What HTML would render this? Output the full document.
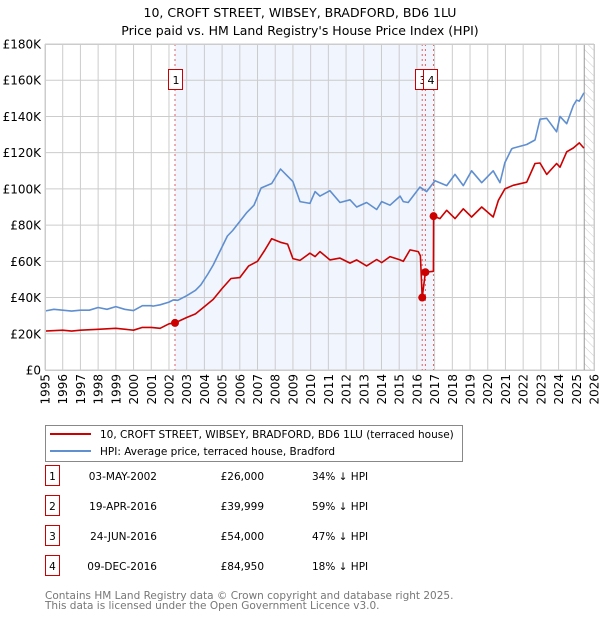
<!DOCTYPE html>
<html><head><meta charset="utf-8"><style>
body{margin:0;background:#fff;font-family:"DejaVu Sans","Liberation Sans",sans-serif;}
svg text{font-family:"DejaVu Sans","Liberation Sans",sans-serif;}
</style></head><body>
<svg id="chart" width="600" height="620" xmlns="http://www.w3.org/2000/svg">
<defs><pattern id="hatch" width="6" height="6" patternUnits="userSpaceOnUse" patternTransform="rotate(-45)"><line x1="0" y1="0" x2="0" y2="6" stroke="#ccc" stroke-width="1"/></pattern></defs>
<text x="300" y="17" text-anchor="middle" font-size="12.5">10, CROFT STREET, WIBSEY, BRADFORD, BD6 1LU</text>
<text x="300" y="35" text-anchor="middle" font-size="12.5">Price paid vs. HM Land Registry's House Price Index (HPI)</text>
<g id="plot"></g>
<g>
<rect x="45.5" y="425.5" width="417" height="36" fill="#fff" stroke="#888"/>
<line x1="50" y1="434" x2="91" y2="434" stroke="#cc0000" stroke-width="2"/>
<text x="100" y="438" font-size="10.5">10, CROFT STREET, WIBSEY, BRADFORD, BD6 1LU (terraced house)</text>
<line x1="50" y1="451" x2="91" y2="451" stroke="#6090d0" stroke-width="2"/>
<text x="100" y="455" font-size="10.5">HPI: Average price, terraced house, Bradford</text>
</g>
<g id="table" font-size="10.5"></g>
<text x="45" y="599" font-size="10.5" fill="#777">Contains HM Land Registry data © Crown copyright and database right 2025.</text>
<text x="45" y="609" font-size="10.5" fill="#777">This data is licensed under the Open Government Licence v3.0.</text>
</svg>
<script>
const hpiYears=[1995,1995.5,1996,1996.5,1997,1997.5,1998,1998.5,1999,1999.5,2000,2000.5,2001,2001.1,2001.5,2002,2002.25,2002.5,2003,2003.5,2003.8,2004.2,2004.5,2004.9,2005.3,2005.6,2006.4,2006.8,2007.2,2007.8,2008.3,2008.7,2009.0,2009.4,2009.96,2010.25,2010.53,2011.09,2011.66,2012.22,2012.6,2013.16,2013.73,2014.01,2014.48,2015.05,2015.23,2015.51,2016.17,2016.55,2017.02,2017.68,2018.15,2018.62,2019.09,2019.66,2020.31,2020.69,2020.97,2021.35,2021.44,2022.2,2022.67,2022.95,2023.33,2023.89,2024.08,2024.46,2024.83,2025.02,2025.17,2025.43];
const hpiValues=[32.6,33.5,33,32.5,33,33,34.5,33.5,35,33.5,32.8,35.5,35.5,35.3,36,37.5,38.7,38.5,41,44,47,53,58,66,74,77,87,91,100.5,103,111,107,104,93,92,98.5,96,99,92.5,94,90,92.5,88.6,93,91,96,93,92.5,101,98.5,104.5,101.8,108,101.8,110,103.4,110,103.4,114.5,122,122.5,124.5,127,138.5,139,131.5,140,136,146,149,148.5,153,148.5];
const redYears=[1995,1996,1996.5,1997,1998,1999,2000,2000.5,2001,2001.5,2002,2002.34,2003,2003.5,2004,2004.5,2005,2005.5,2006,2006.5,2007,2007.4,2007.8,2008.3,2008.7,2009.0,2009.4,2009.96,2010.25,2010.53,2011.09,2011.66,2012.22,2012.6,2013.16,2013.73,2014.01,2014.48,2015.05,2015.23,2015.61,2016.08,2016.2,2016.30,2016.48,2016.93,2016.94,2017.3,2017.68,2018.15,2018.62,2019.09,2019.66,2020.31,2020.6,2020.97,2021.44,2022.2,2022.67,2022.95,2023.33,2023.89,2024.08,2024.46,2024.83,2025.17,2025.43];
const redValues=[21.5,22,21.5,22,22.5,23,22,23.5,23.5,23,25.5,26,29,31,35,39,45,50.5,51,57.5,60,66,72.5,70.5,69.5,61.5,60.5,64.5,62.6,65.4,60.8,61.8,59,60.8,57.5,61,59.3,62.6,60.8,60,66.3,65.4,63,40,54,54.5,84.95,83.6,88.2,83.6,89,84.5,90,84.5,93.7,100,102,103.7,114,114.3,108,114,112,120.5,122.6,125.4,122.5];
const saleYears=[2002.34,2016.30,2016.48,2016.94];
const saleValues=[26,39.999,54,84.95];
const saleLabels=["1","2","3","4"];
const saleDates=["03-MAY-2002","19-APR-2016","24-JUN-2016","09-DEC-2016"];
const salePrices=["£26,000","£39,999","£54,000","£84,950"];
const saleDiffs=["34% ↓ HPI","59% ↓ HPI","47% ↓ HPI","18% ↓ HPI"];
const yTicks=[0,20,40,60,80,100,120,140,160,180];
const yTickLabels=["£0","£20K","£40K","£60K","£80K","£100K","£120K","£140K","£160K","£180K"];
const xTicks=[1995,1996,1997,1998,1999,2000,2001,2002,2003,2004,2005,2006,2007,2008,2009,2010,2011,2012,2013,2014,2015,2016,2017,2018,2019,2020,2021,2022,2023,2024,2025,2026];

const X0=45,X1=594,Y0=370,Y1=44;
const xs=y=>X0+(y-1995)/31*(X1-X0);
const ys=v=>Y0-v/180*(Y0-Y1);
const NS="http://www.w3.org/2000/svg";
const plot=document.getElementById('plot');
function mk(tag,attrs,parent){const e=document.createElementNS(NS,tag);for(const k in attrs)e.setAttribute(k,attrs[k]);(parent||plot).appendChild(e);return e;}

let e=mk('rect',{x:X0,y:Y1,width:X1-X0,height:Y0-Y1,fill:'#fff'});


e=mk('rect',{x:xs(saleYears[0]),y:Y1,width:xs(saleYears[3])-xs(saleYears[0]),height:Y0-Y1,fill:'#eef3fd',opacity:0.8});


e=mk('rect',{x:xs(2025.45),y:Y1,width:X1-xs(2025.45),height:Y0-Y1,fill:'url(#hatch)'});


yTicks.forEach((t,i)=>{
  const l=mk('line',{x1:X0,x2:X1,y1:ys(t),y2:ys(t),stroke:'#ccc','stroke-width':1});
  
  
  const tx=mk('text',{x:X0-4,y:ys(t)+4.5,'text-anchor':'end','font-size':'12'});
  tx.textContent=yTickLabels[i];
  
  
});
xTicks.forEach(t=>{
  const l=mk('line',{x1:xs(t),x2:xs(t),y1:Y1,y2:Y0,stroke:'#ccc','stroke-width':1});
  
  
  const tx=mk('text',{x:0,y:0,'text-anchor':'end','font-size':'12',transform:`translate(${xs(t)+4.5},${Y0+4}) rotate(-90)`});
  tx.textContent=t;
  
  
});
e=mk('line',{x1:xs(2025.45),x2:xs(2025.45),y1:Y1,y2:Y0,stroke:'#999'});


saleYears.forEach((y,i)=>{
  const l=mk('line',{x1:xs(y),x2:xs(y),y1:Y1,y2:Y0,stroke:'#e06060','stroke-dasharray':'2,3','stroke-width':1});
  
  
});
function path(yrs,vals,color,name){
  const d=yrs.map((y,i)=>(i?'L':'M')+xs(y).toFixed(1)+','+ys(vals[i]).toFixed(1)).join('');
  const p=mk('path',{d,fill:'none',stroke:color,'stroke-width':1.6,'stroke-linejoin':'round'});
  
  
}
path(hpiYears,hpiValues,'#5f8fd0','hpi-line');
path(redYears,redValues,'#cc0000','property-price-line');
saleYears.forEach((y,i)=>{
  const c=mk('circle',{cx:xs(y),cy:ys(saleValues[i]),r:4,fill:'#cc0000'});
  
  
});
const boxX=[169,411,416,424];
saleLabels.forEach((s,i)=>{
  const g=mk('g',{});
  
  
  if(i===1) return;
  mk('rect',{x:boxX[i]-0.5,y:69.5,width:14,height:20,fill:'#fff',stroke:'#cc0000'},g);
  const t=mk('text',{x:boxX[i]+7,y:84,'text-anchor':'middle','font-size':'11'},g);t.textContent=s;
});
mk('rect',{x:X0+0.5,y:Y1+0.5,width:X1-X0,height:Y0-Y1,fill:'none',stroke:'#ccc'});

const tbl=document.getElementById('table');
const rowY=[483,513,543,573];
saleLabels.forEach((s,i)=>{
  const g=mk('g',{},tbl);
  
  
  mk('rect',{x:45.5,y:rowY[i]-17.5,width:14,height:20,fill:'#fff',stroke:'#cc0000'},g);
  let t=mk('text',{x:52.5,y:rowY[i]-3,'text-anchor':'middle'},g);t.textContent=s;
  t=mk('text',{x:157,y:rowY[i]-3,'text-anchor':'end'},g);t.textContent=saleDates[i];
  t=mk('text',{x:264,y:rowY[i]-3,'text-anchor':'end'},g);t.textContent=salePrices[i];
  t=mk('text',{x:312,y:rowY[i]-3},g);t.textContent=saleDiffs[i];
});
</script>
</body></html>
